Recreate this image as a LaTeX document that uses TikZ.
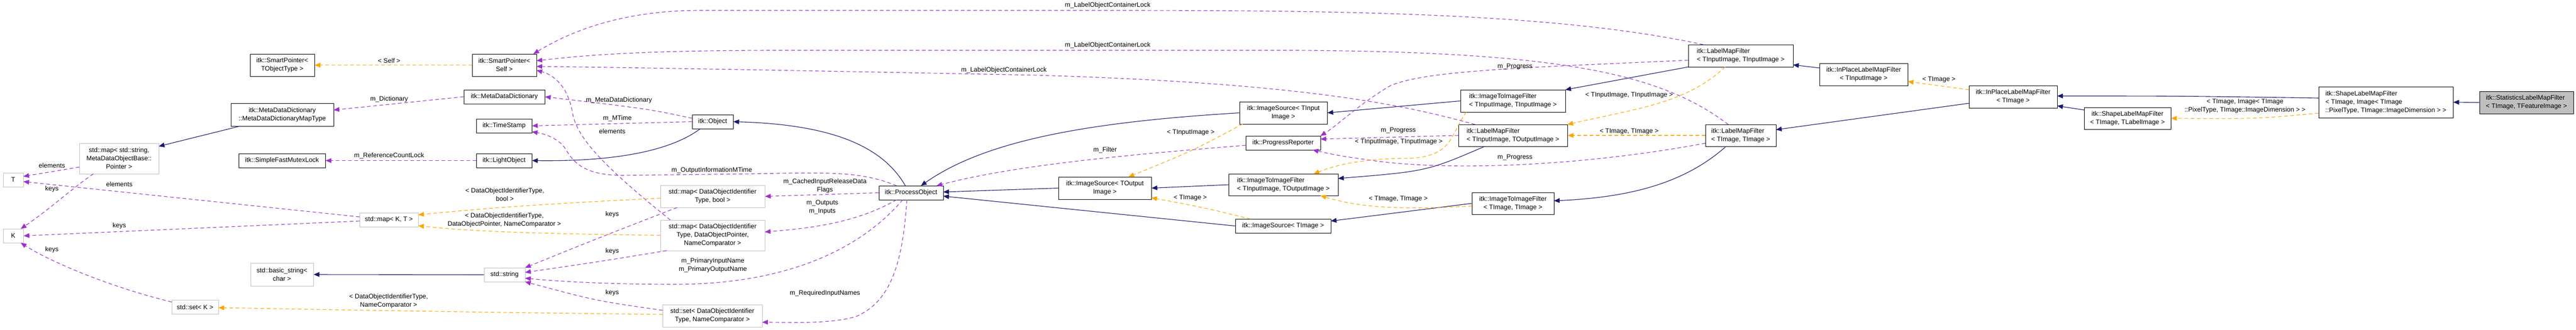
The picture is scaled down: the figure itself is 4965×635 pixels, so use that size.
\documentclass[tikz,border=0pt]{standalone}
\usepackage{fontspec}
\setmainfont{Liberation Sans}
\usetikzlibrary{arrows.meta}
\definecolor{inhc}{HTML}{191970}
\definecolor{usec}{HTML}{9A32CD}
\definecolor{tplc}{HTML}{FFA500}
\definecolor{grayb}{HTML}{BFBFBF}
\begin{document}
\begin{tikzpicture}[x=1pt,y=-1pt,
  cls/.style={draw=black, line width=1pt, fill=white, inner sep=0pt, font=\fontsize{12.5}{16}\selectfont, align=center},
  std/.style={cls, draw=grayb},
  lbl/.style={inner sep=0pt, font=\fontsize{12.5}{16}\selectfont, align=center},
  inh/.style={draw=inhc, line width=1.1pt, -{Triangle[length=11pt,width=9pt]}},
  use/.style={draw=usec, line width=1.1pt, dash pattern=on 7pt off 5pt, -{Triangle[length=11pt,width=9pt]}},
  tpl/.style={draw=tplc, line width=1.1pt, dash pattern=on 7pt off 5pt, -{Triangle[length=11pt,width=9pt]}}]
\useasboundingbox (0,0) rectangle (4965,635);
% nodes
\node[cls, minimum width=124, minimum height=43] (spto) at (544,125.5) {itk::SmartPointer<\\TObjectType >};
\node[cls, minimum width=198, minimum height=44] (mdmt) at (544,221) {itk::MetaDataDictionary\\::MetaDataDictionaryMapType};
\node[std, minimum width=153, minimum height=59] (smap) at (229.5,305.5) {std::map< std::string,\\MetaDataObjectBase::\\Pointer >};
\node[std, minimum width=39, minimum height=27] (T) at (25.5,346.5) {T};
\node[std, minimum width=39, minimum height=27] (K) at (25.5,454.5) {K};
\node[cls, minimum width=167, minimum height=27] (sfml) at (543.5,309.5) {itk::SimpleFastMutexLock};
\node[std, minimum width=113, minimum height=27] (mapKT) at (749.5,423.5) {std::map< K, T >};
\node[std, minimum width=121, minimum height=44] (bstr) at (543.5,529) {std::basic\_string<\\char >};
\node[std, minimum width=90, minimum height=27] (setK) at (376,592) {std::set< K >};
\node[cls, minimum width=124, minimum height=43] (sp) at (972,125.5) {itk::SmartPointer<\\Self >};
\node[cls, minimum width=156, minimum height=27] (mdd) at (972,186.5) {itk::MetaDataDictionary};
\node[cls, minimum width=107, minimum height=27] (ts) at (971.5,242.5) {itk::TimeStamp};
\node[cls, minimum width=107, minimum height=27] (lo) at (971.5,309.5) {itk::LightObject};
\node[cls, minimum width=79, minimum height=27] (obj) at (1373.5,234.5) {itk::Object};
\node[cls, minimum width=124, minimum height=27] (po) at (1756,371.5) {itk::ProcessObject};
\node[std, minimum width=201, minimum height=43] (mapb) at (1373.5,378.5) {std::map< DataObjectIdentifier\\Type, bool >};
\node[std, minimum width=201, minimum height=59] (mapd) at (1373.5,453.5) {std::map< DataObjectIdentifier\\Type, DataObjectPointer,\\NameComparator >};
\node[std, minimum width=79, minimum height=27] (str) at (972.5,529.5) {std::string};
\node[std, minimum width=192, minimum height=43] (setd) at (1373,608.5) {std::set< DataObjectIdentifier\\Type, NameComparator >};
\node[cls, minimum width=169, minimum height=43] (isin) at (2473.5,217.5) {itk::ImageSource< TInput\\Image >};
\node[cls, minimum width=144, minimum height=27] (pr) at (2473,275.5) {itk::ProgressReporter};
\node[cls, minimum width=179, minimum height=43] (isout) at (2129.5,362.5) {itk::ImageSource< TOutput\\Image >};
\node[cls, minimum width=211, minimum height=42, align=left] (itio) at (2473.5,356) {itk::ImageToImageFilter\\< TInputImage, TOutputImage >};
\node[cls, minimum width=184, minimum height=27] (isim) at (2473,435.5) {itk::ImageSource< TImage >};
\node[cls, minimum width=202, minimum height=43, align=left] (lmfii) at (3355,107.5) {itk::LabelMapFilter\\< TInputImage, TInputImage >};
\node[cls, minimum width=202, minimum height=43, align=left] (itii) at (2916,194.5) {itk::ImageToImageFilter\\< TInputImage, TInputImage >};
\node[cls, minimum width=210, minimum height=42, align=left] (lmfio) at (2916,261) {itk::LabelMapFilter\\< TInputImage, TOutputImage >};
\node[cls, minimum width=136, minimum height=42, align=left] (lmftt) at (3355,261) {itk::LabelMapFilter\\< TImage, TImage >};
\node[cls, minimum width=158, minimum height=42] (ittt) at (2916,392) {itk::ImageToImageFilter\\< TImage, TImage >};
\node[cls, minimum width=170, minimum height=43] (ipin) at (3592,143.5) {itk::InPlaceLabelMapFilter\\< TInputImage >};
\node[cls, minimum width=170, minimum height=43] (ipt) at (3880,186.5) {itk::InPlaceLabelMapFilter\\< TImage >};
\node[cls, minimum width=167, minimum height=42] (shl) at (4100.5,228) {itk::ShapeLabelMapFilter\\< TImage, TLabelImage >};
\node[cls, minimum width=259, minimum height=60, align=left] (shi) at (4598.5,197) {itk::ShapeLabelMapFilter\\< TImage, Image< TImage\\::PixelType, TImage::ImageDimension > >};
\node[cls, fill=grayb, minimum width=181, minimum height=43, align=left] (stat) at (4869.5,197.5) {itk::StatisticsLabelMapFilter\\< TImage, TFeatureImage >};
% inheritance
\draw[inh] ([shift={(-81,22)}]mdmt.center) -- ([shift={(76.5,-23.5)}]smap.center);
\draw[inh] (str.west) -- (bstr.east);
\draw[inh] ([shift={(-23.5,13.5)}]obj.center) .. controls (1280,300) and (1150,311) .. (lo.east);
\draw[inh] ([shift={(-11,-13.5)}]po.center) .. controls (1700,280) and (1600,240) .. (obj.east);
\draw[inh] (isout.west) -- ([shift={(62,-1.5)}]po.center);
\draw[inh] (isin.west) .. controls (2100,235) and (1900,270) .. ([shift={(19,-13.5)}]po.center);
\draw[inh] (isim.west) -- ([shift={(62,6.5)}]po.center);
\draw[inh] (itio.west) -- (isout.east);
\draw[inh] (itii.west) -- (isin.east);
\draw[inh] (ittt.west) -- ([shift={(92,-9.5)}]isim.center);
\draw[inh] ([shift={(-54,21)}]lmfio.center) .. controls (2750,330) .. ([shift={(105.5,-12)}]itio.center);
\draw[inh] ([shift={(-101,21.5)}]lmfii.center) -- ([shift={(101,-21.5)}]itii.center);
\draw[inh] ([shift={(-28,21)}]lmftt.center) .. controls (3250,350) and (3150,380) .. ([shift={(79,-5)}]ittt.center);
\draw[inh] ([shift={(-85,-12.5)}]ipin.center) -- ([shift={(101,17.5)}]lmfii.center);
\draw[inh] ([shift={(-85,12.5)}]ipt.center) -- ([shift={(68,-11)}]lmftt.center);
\draw[inh] ([shift={(-83.5,-16)}]shl.center) -- ([shift={(85,17.5)}]ipt.center);
\draw[inh] ([shift={(-129.5,-8)}]shi.center) .. controls (4200,185) .. ([shift={(85,-1.5)}]ipt.center);
\draw[inh] (stat.west) -- (shi.east);
% usage
\draw[use] ([shift={(-72,-21.5)}]lmfii.center) .. controls (3000,25) and (2600,20) .. (2135,20) -- (1350,20) .. controls (1200,20) and (1100,60) .. ([shift={(56,-21.5)}]sp.center);
\node[lbl] (l1) at (2135,10) {m\_LabelObjectContainerLock};
\draw[use] ([shift={(-24,-21)}]lmftt.center) .. controls (3200,140) and (3000,100) .. (2500,97) -- (1500,97) .. controls (1200,97) and (1100,110) .. ([shift={(62,-8.5)}]sp.center);
\node[lbl] (l2) at (2135,87) {m\_LabelObjectContainerLock};
\draw[use] ([shift={(-73,-21)}]lmfio.center) .. controls (2700,200) and (2500,160) .. (2000,145) .. controls (1500,135) and (1200,130) .. ([shift={(62,2.5)}]sp.center);
\node[lbl] (l3) at (1935,135) {m\_LabelObjectContainerLock};
\draw[use] ([shift={(-81.5,-29.5)}]mapd.center) .. controls (1150,310) and (1110,260) .. (1103,215) .. controls (1095,170) and (1070,145) .. ([shift={(62,10)}]sp.center);
\node[lbl] (l4) at (1180,253) {elements};
\draw[use] ([shift={(-39.5,-6.5)}]obj.center) .. controls (1250,210) .. (mdd.east);
\node[lbl] (l5) at (1193,193) {m\_MetaDataDictionary};
\draw[use] (obj.west) -- (ts.east);
\node[lbl] (l6) at (1190,228) {m\_MTime};
\draw[use] ([shift={(-28,-13.5)}]po.center) .. controls (1660,330) and (1600,332) .. (1450,335) -- (1200,338) .. controls (1110,338) and (1100,300) .. (1085,280) .. controls (1070,265) and (1050,258) .. ([shift={(53.5,11.5)}]ts.center);
\node[lbl] (l7) at (1372,328) {m\_OutputInformationMTime};
\draw[use] (mdd.west) -- ([shift={(99,-9)}]mdmt.center);
\node[lbl] (l8) at (750,191) {m\_Dictionary};
\draw[use] (lo.west) -- (sfml.east);
\node[lbl] (l9) at (750,300) {m\_ReferenceCountLock};
\draw[use] (po.west) -- (mapb.east);
\node[lbl] (l10) at (1590,358) {m\_CachedInputReleaseData\\Flags};
\draw[use] ([shift={(-28,13.5)}]po.center) .. controls (1650,430) and (1560,440) .. ([shift={(100.5,-6.5)}]mapd.center);
\node[lbl] (l11) at (1585,399) {m\_Outputs\\m\_Inputs};
\draw[use] ([shift={(-16,13.5)}]po.center) .. controls (1650,490) and (1500,548) .. (1300,548) .. controls (1150,548) and (1050,540) .. ([shift={(39.5,6.5)}]str.center);
\node[lbl] (l12) at (1374,511) {m\_PrimaryInputName\\m\_PrimaryOutputName};
\draw[use] ([shift={(-8,13.5)}]po.center) .. controls (1740,500) and (1720,580) .. (1650,610) .. controls (1600,625) and (1520,621) .. ([shift={(96,12.5)}]setd.center);
\node[lbl] (l13) at (1590,565) {m\_RequiredInputNames};
\draw[use] ([shift={(-68.5,21.5)}]mapb.center) .. controls (1150,460) .. ([shift={(39.5,-13.5)}]str.center);
\node[lbl] (l14) at (1180,413) {keys};
\draw[use] ([shift={(-88.5,29.5)}]mapd.center) .. controls (1150,505) .. ([shift={(39.5,-4.5)}]str.center);
\node[lbl] (l15) at (1180,484) {keys};
\draw[use] ([shift={(-96,-10.5)}]setd.center) .. controls (1150,580) .. ([shift={(39.5,13.5)}]str.center);
\node[lbl] (l16) at (1180,564) {keys};
\draw[use] ([shift={(-76.5,16.5)}]smap.center) -- ([shift={(19.5,-6.5)}]T.center);
\node[lbl] (l17) at (100,319) {elements};
\draw[use] ([shift={(-49.5,29.5)}]smap.center) .. controls (130,370) and (100,400) .. ([shift={(14.5,-13.5)}]K.center);
\node[lbl] (l18) at (100,364) {keys};
\draw[use] ([shift={(-56.5,-5.5)}]mapKT.center) -- ([shift={(19.5,3.5)}]T.center);
\node[lbl] (l19) at (230,355) {elements};
\draw[use] ([shift={(-56.5,2.5)}]mapKT.center) -- (K.east);
\node[lbl] (l20) at (230,435) {keys};
\draw[use] ([shift={(-45,-10)}]setK.center) .. controls (200,550) and (90,500) .. ([shift={(14.5,13.5)}]K.center);
\node[lbl] (l21) at (100,481) {keys};
\draw[use] ([shift={(-72,4.5)}]pr.center) .. controls (2150,300) and (1950,320) .. ([shift={(49,-13.5)}]po.center);
\node[lbl] (l22) at (2130,289) {m\_Filter};
\draw[use] ([shift={(-101,8.5)}]lmfii.center) .. controls (2950,130) and (2750,135) .. (2680,165) .. controls (2620,200) and (2580,240) .. ([shift={(72,-13.5)}]pr.center);
\node[lbl] (l23) at (2920,128) {m\_Progress};
\draw[use] (lmfio.west) -- ([shift={(72,-7.5)}]pr.center);
\node[lbl] (l24) at (2695,251) {m\_Progress};
\draw[use] ([shift={(-68,15)}]lmftt.center) .. controls (3050,320) and (2800,330) .. (2650,310) .. controls (2580,300) .. ([shift={(57,13.5)}]pr.center);
\node[lbl] (l25) at (2920,303) {m\_Progress};
% templates
\draw[tpl] ([shift={(-100.5,3.5)}]mapb.center) .. controls (1000,395) and (900,405) .. ([shift={(56.5,-9.5)}]mapKT.center);
\node[lbl] (t1) at (973,375) {< DataObjectIdentifierType,\\bool >};
\draw[tpl] (mapd.west) .. controls (1000,450) and (900,445) .. ([shift={(56.5,11.5)}]mapKT.center);
\node[lbl] (t2) at (972,424) {< DataObjectIdentifierType,\\DataObjectPointer, NameComparator >};
\draw[tpl] ([shift={(-96,-2.5)}]setd.center) .. controls (1000,603) and (700,598) .. ([shift={(45,1)}]setK.center);
\node[lbl] (t3) at (749,580) {< DataObjectIdentifierType,\\NameComparator >};
\draw[tpl] (sp.west) -- (spto.east);
\node[lbl] (t4) at (750,117) {< Self >};
\draw[tpl] ([shift={(-78.5,21.5)}]isin.center) .. controls (2300,290) .. ([shift={(45.5,-21.5)}]isout.center);
\node[lbl] (t5) at (2295,255) {< TInputImage >};
\draw[tpl] ([shift={(-63,-13.5)}]isim.center) .. controls (2320,400) .. ([shift={(89.5,18.5)}]isout.center);
\node[lbl] (t6) at (2294,381) {< TImage >};
\draw[tpl] ([shift={(-90,21.5)}]itii.center) .. controls (2795,260) and (2800,300) .. (2720,305) .. controls (2620,305) and (2570,320) .. ([shift={(58.5,-21)}]itio.center);
\node[lbl] (t7) at (2696,273) {< TInputImage, TInputImage >};
\draw[tpl] ([shift={(-79,5)}]ittt.center) .. controls (2700,405) and (2620,400) .. ([shift={(71.5,21)}]itio.center);
\node[lbl] (t8) at (2695,383) {< TImage, TImage >};
\draw[tpl] ([shift={(-30,21.5)}]lmfii.center) .. controls (3250,200) and (3150,210) .. ([shift={(105,-21)}]lmfio.center);
\node[lbl] (t9) at (3140,183) {< TInputImage, TInputImage >};
\draw[tpl] (lmftt.west) -- (lmfio.east);
\node[lbl] (t10) at (3140,253) {< TImage, TImage >};
\draw[tpl] ([shift={(-85,-13.5)}]ipt.center) -- ([shift={(85,13.5)}]ipin.center);
\node[lbl] (t11) at (3737,153) {< TImage >};
\draw[tpl] ([shift={(-129.5,21)}]shi.center) .. controls (4350,229) .. (shl.east);
\node[lbl] (t12) at (4327,204) {< TImage, Image< TImage\\::PixelType, TImage::ImageDimension > >};
\end{tikzpicture}
\end{document}
